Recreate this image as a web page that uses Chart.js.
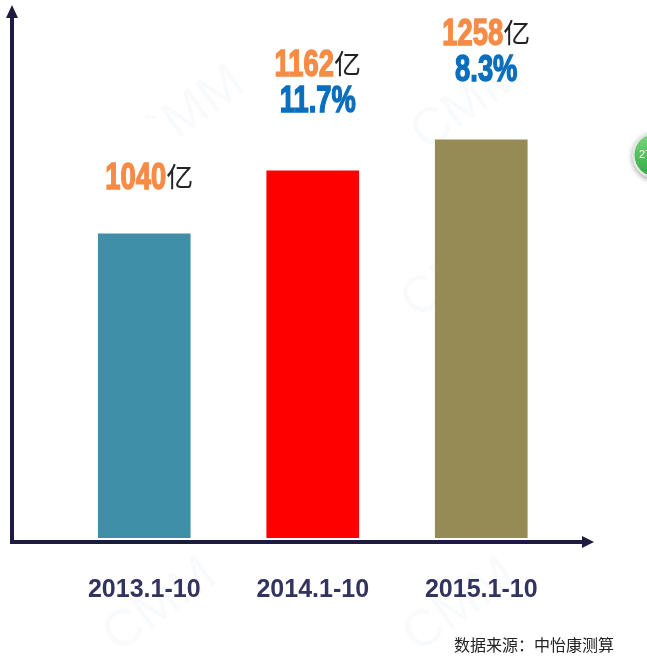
<!DOCTYPE html>
<html>
<head>
<meta charset="utf-8">
<style>
  html, body { margin: 0; padding: 0; background: #fff; overflow: hidden; }
  #chart { position: absolute; left: 0; top: 0; }
</style>
<script src="https://cdn.jsdelivr.net/npm/chart.js@4"></script>
</head>
<body>
<canvas id="chart" width="647" height="659"></canvas>
<script>
// Data
const periods = ['2013.1-10', '2014.1-10', '2015.1-10'];
const totals = ['1040', '1162', '1258'];
const growth = ['', '11.7%', '8.3%'];
// The drawn bars are not in proportion to their labels, so these are the
// bar heights as drawn, expressed in units where the first bar reads 1040
const barLevels = [1040, 1256, 1362];
const barColors = ['#3f8fa9', '#ff0000', '#968a55'];

const axisColor = '#1f1b40';
const cjk = '"Noto Sans CJK SC", sans-serif';
const squeeze = 0.76; // no condensed font here, so the label digits get squeezed

// Faint CMM watermarks behind the chart
const watermarkPlugin = {
    id: 'watermark',
    beforeDraw(chart) {
        const ctx = chart.ctx;
        const marks = [['`MM', 197, 108], ['CMM', 468, 104], ['CMM', 458, 272], ['CMM', 160, 606], ['CMM', 460, 606]];
        ctx.save();
        ctx.font = '52px "Liberation Sans", sans-serif';
        ctx.fillStyle = 'rgba(215, 222, 232, 0.14)';
        ctx.textAlign = 'center';
        ctx.textBaseline = 'middle';
        marks.forEach(m => {
            ctx.save();
            ctx.translate(m[1], m[2]);
            ctx.rotate(-0.62);
            ctx.fillText(m[0], 0, 0);
            ctx.restore();
        });
        ctx.restore();
    }
};

function drawHeavy(ctx, text, x, y, color) {
    ctx.save();
    ctx.translate(x, y);
    ctx.scale(squeeze, 1);
    ctx.font = 'bold 36px "Liberation Sans", sans-serif';
    ctx.textAlign = 'left';
    ctx.fillStyle = color;
    ctx.strokeStyle = color;
    ctx.lineWidth = 1.4;
    ctx.strokeText(text, 0, 0);
    ctx.fillText(text, 0, 0);
    ctx.restore();
}

function heavyWidth(ctx, text) {
    ctx.save();
    ctx.font = 'bold 36px "Liberation Sans", sans-serif';
    const w = ctx.measureText(text).width * squeeze;
    ctx.restore();
    return w;
}

// Hand drawn arrows, value labels, source note and the green badge
const overlayPlugin = {
    id: 'overlay',
    afterDraw(chart) {
        const ctx = chart.ctx;
        ctx.save();

        // axes
        ctx.fillStyle = axisColor;
        ctx.fillRect(10, 14, 4, 530);
        ctx.fillRect(10, 540, 576, 4);
        ctx.beginPath();
        ctx.moveTo(12, 5); ctx.lineTo(18, 18); ctx.lineTo(6, 18);
        ctx.closePath(); ctx.fill();
        ctx.beginPath();
        ctx.moveTo(594, 542); ctx.lineTo(582, 536); ctx.lineTo(582, 548);
        ctx.closePath(); ctx.fill();

        // value labels
        const bars = chart.getDatasetMeta(0).data;
        ctx.textBaseline = 'middle';
        totals.forEach((t, i) => {
            const hasGrowth = growth[i] !== '';
            const y = bars[i].y - (hasGrowth ? 105 : 55);
            const cx = bars[i].x + 5;
            const w1 = heavyWidth(ctx, t);
            ctx.font = '27px ' + cjk;
            const w2 = ctx.measureText('亿').width;
            const left = cx - (w1 + w2) / 2;
            drawHeavy(ctx, t, left, y, '#f58b45');
            ctx.textAlign = 'left';
            ctx.font = '27px ' + cjk;
            ctx.fillStyle = '#222222';
            ctx.fillText('亿', left + w1, y - 2);
            if (hasGrowth) {
                drawHeavy(ctx, growth[i], cx - heavyWidth(ctx, growth[i]) / 2, y + 36.5, '#0a6ebd');
            }
        });

        // source note
        ctx.textAlign = 'left';
        ctx.font = '16px ' + cjk;
        ctx.fillStyle = '#222222';
        ctx.fillText('数据来源：中怡康测算', 454, 645);

        // badge cut off by the right edge
        const grad = ctx.createLinearGradient(0, 134, 0, 178);
        grad.addColorStop(0, '#7fd67f');
        grad.addColorStop(0.5, '#4fc05a');
        grad.addColorStop(1, '#3aa547');
        ctx.shadowColor = 'rgba(0,0,0,0.35)';
        ctx.shadowBlur = 5;
        ctx.shadowOffsetY = 2;
        ctx.fillStyle = '#e4e8e4';
        ctx.beginPath(); ctx.arc(656, 155, 24, 0, Math.PI * 2); ctx.fill();
        ctx.shadowColor = 'transparent';
        ctx.fillStyle = grad;
        ctx.beginPath(); ctx.arc(656, 155, 21.5, 0, Math.PI * 2); ctx.fill();
        ctx.fillStyle = '#ffffff';
        ctx.font = '11px "Liberation Sans", sans-serif';
        ctx.fillText('27', 639, 155);

        ctx.restore();
    }
};

const chart = new Chart(document.getElementById('chart').getContext('2d'), {
    type: 'bar',
    data: {
        labels: periods,
        datasets: [{
            data: barLevels,
            backgroundColor: barColors,
            borderWidth: 0,
            barThickness: 92
        }]
    },
    options: {
        responsive: false,
        animation: false,
        layout: { padding: { left: 60, right: 81.5, top: 0, bottom: 0 } },
        plugins: { legend: { display: false }, tooltip: { enabled: false } },
        scales: {
            x: {
                grid: { display: false },
                border: { display: false },
                afterFit: scale => { scale.height = 121; },
                ticks: {
                    padding: 29,
                    maxRotation: 0,
                    color: '#333360',
                    font: { family: '"Liberation Sans", sans-serif', size: 25, weight: 'bold' }
                }
            },
            y: {
                display: false,
                min: 0,
                max: 1840
            }
        }
    },
    plugins: [watermarkPlugin, overlayPlugin]
});
</script>
</body>
</html>
